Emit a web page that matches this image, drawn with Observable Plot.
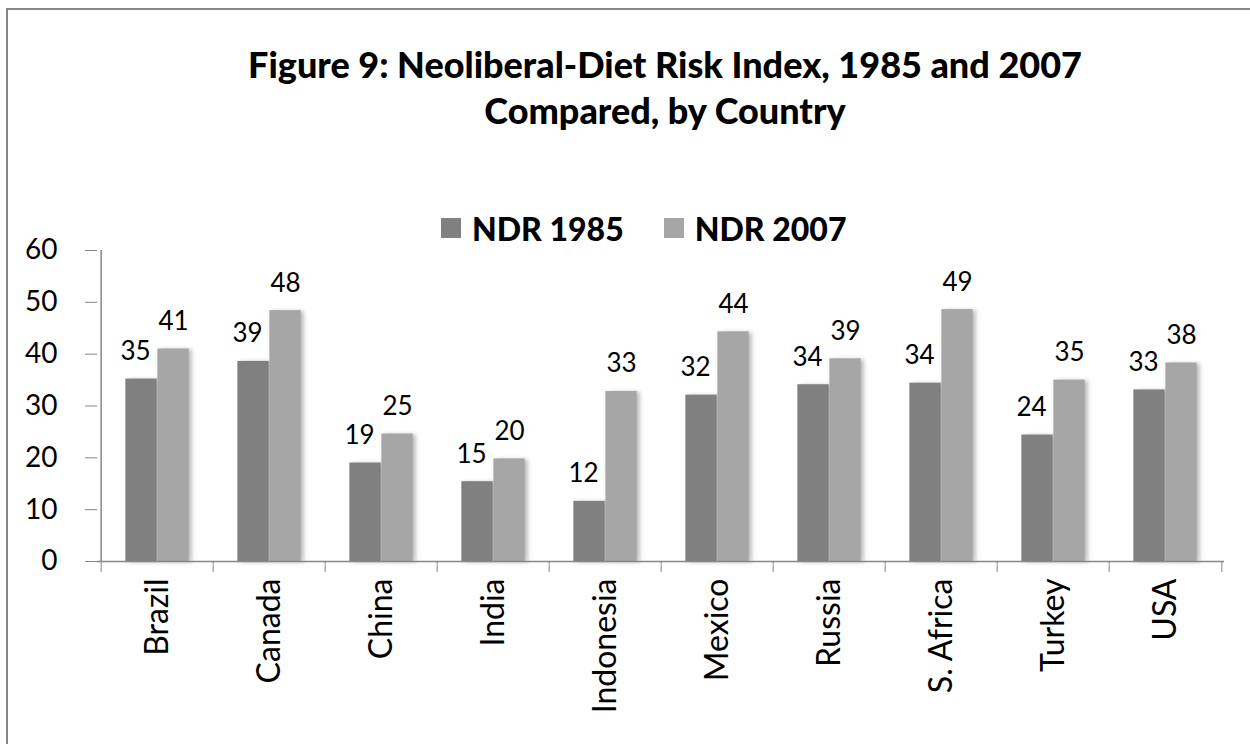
<!DOCTYPE html>
<html><head><meta charset="utf-8">
<script src="https://cdn.jsdelivr.net/npm/d3@7"></script>
<script src="https://cdn.jsdelivr.net/npm/@observablehq/plot@0.6"></script>
<style>
body{margin:0;background:#fff;}
#wrap{position:relative;width:1250px;height:744px;overflow:hidden;font-family:Lato,sans-serif;color:#000;}
#border{position:absolute;left:6px;top:8px;width:1300px;height:800px;border-left:2px solid #868686;border-top:2px solid #868686;}
#title{position:absolute;left:0;width:1330px;top:41px;text-align:center;font-weight:900;font-size:36px;line-height:46px;}
#legend{position:absolute;top:212px;left:441px;height:32px;display:flex;align-items:center;font-weight:900;font-size:32px;white-space:nowrap;}
#legend .sw{width:20px;height:20px;display:inline-block;margin-right:11px;}
#legend .item{display:flex;align-items:center;margin-right:40px;}
#chart{position:absolute;left:0;top:240px;}
#chart g[aria-label="bar"] rect{filter:drop-shadow(3px 1px 2px rgba(0,0,0,0.28));}
#chart g[aria-label="y-axis tick label"]{font-size:28px;}
#chart g[aria-label="x-axis tick label"]{font-size:32px;}
</style></head>
<body>
<div id="wrap">
  <div id="border"></div>
  <div id="title">Figure 9: Neoliberal-Diet Risk Index, 1985 and 2007<br>Compared, by Country</div>
  <div id="legend"></div>
  <div id="chart"></div>
</div>
<script>
const countries = ["Brazil","Canada","China","India","Indonesia","Mexico","Russia","S. Africa","Turkey","USA"];
const ndr1985 = [35.2, 38.6, 19.0, 15.4, 11.6, 32.1, 34.1, 34.4, 24.4, 33.1];
const ndr2007 = [41.0, 48.4, 24.6, 19.8, 32.8, 44.3, 39.1, 48.6, 35.0, 38.3];
const seriesNames = ["NDR 1985", "NDR 2007"];
const seriesColors = ["#808080", "#a6a6a6"];
const yTicks = [0, 10, 20, 30, 40, 50, 60];

const rows1985 = countries.map((c, i) => ({country: c, series: seriesNames[0], value: ndr1985[i]}));
const rows2007 = countries.map((c, i) => ({country: c, series: seriesNames[1], value: ndr2007[i]}));

// legend
const legend = document.getElementById("legend");
seriesNames.forEach((s, i) => {
  const item = document.createElement("span");
  item.className = "item";
  const sw = document.createElement("span");
  sw.className = "sw";
  sw.style.background = seriesColors[i];
  item.appendChild(sw);
  item.appendChild(document.createTextNode(s));
  legend.appendChild(item);
});

const W = 1250, H = 504;
const mL = 97, mR = 26;
const step = (W - mL - mR) / countries.length;
const barW = 32;
const outer = (step - 2 * barW) / 2;
const fmt = d3.format(".0f");
const axisColor = "#868686";

const chart = Plot.plot({
  width: W, height: H,
  marginLeft: mL, marginRight: mR, marginTop: 10, marginBottom: 183,
  x: {domain: countries, padding: 0, axis: null, label: null},
  y: {domain: [0, 60], axis: null, label: null},
  color: {domain: seriesNames, range: seriesColors},
  style: {fontFamily: "Lato, sans-serif", background: "transparent", overflow: "visible", color: "black"},
  marks: [
    Plot.barY(rows1985, {x: "country", y: "value", fill: "series", insetLeft: outer, insetRight: outer + barW}),
    Plot.barY(rows2007, {x: "country", y: "value", fill: "series", insetLeft: outer + barW, insetRight: outer}),
    Plot.text(rows1985, {x: "country", y: "value", text: d => fmt(d.value), dx: -barW / 2 - 6, dy: -19, lineAnchor: "bottom", fontSize: 26, fill: "black"}),
    Plot.text(rows2007, {x: "country", y: "value", text: d => fmt(d.value), dx: barW / 2, dy: -19, lineAnchor: "bottom", fontSize: 26, fill: "black"}),
    Plot.ruleY([0], {stroke: axisColor, strokeWidth: 1.5}),
    Plot.ruleX([countries[0]], {y1: 0, y2: 60, dx: -step / 2, stroke: axisColor, strokeWidth: 1.5}),
    Plot.axisY({ticks: yTicks, tickSize: 12, tickPadding: 28, fontSize: 28, stroke: axisColor, fill: "black", tickFormat: d => d, label: null}),
    Plot.axisX({tickSize: 11, tickPadding: 0, tickFormat: () => "", dx: -step / 2, stroke: axisColor, label: null}),
    Plot.axisX({ticks: [countries[countries.length - 1]], tickSize: 11, tickFormat: () => "", dx: step / 2, stroke: axisColor, label: null}),
    Plot.axisX({tickSize: 0, tickPadding: 17, tickRotate: -90, fontSize: 32, fill: "black", label: null})
  ]
});
document.getElementById("chart").appendChild(chart);
</script>
</body></html>
